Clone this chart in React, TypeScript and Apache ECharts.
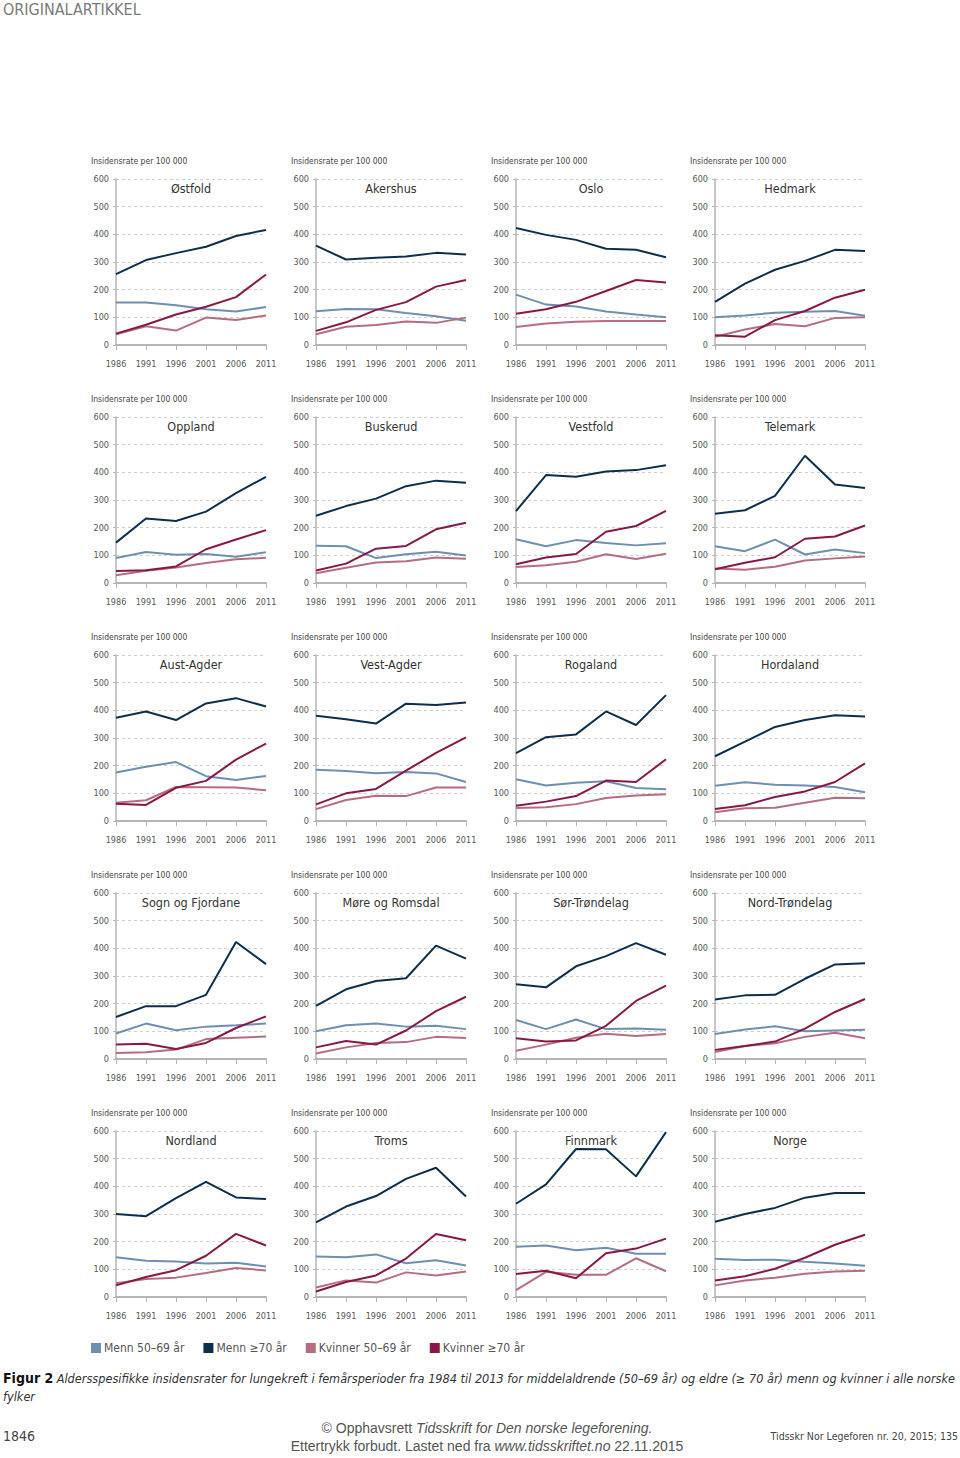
import React, { useEffect, useRef } from "react";
import * as echarts from "echarts";

const years = ["1986", "1991", "1996", "2001", "2006", "2011"];
const yTicks = [0, 100, 200, 300, 400, 500, 600];

const regions = [
  "Østfold", "Akershus", "Oslo", "Hedmark",
  "Oppland", "Buskerud", "Vestfold", "Telemark",
  "Aust-Agder", "Vest-Agder", "Rogaland", "Hordaland",
  "Sogn og Fjordane", "Møre og Romsdal", "Sør-Trøndelag", "Nord-Trøndelag",
  "Nordland", "Troms", "Finnmark", "Norge",
];

const seriesNames = ["Menn 50–69 år", "Menn ≥70 år", "Kvinner 50–69 år", "Kvinner ≥70 år"];
const seriesColors = ["#6e8fb4", "#0d2f4e", "#b86c7f", "#8a1846"];

// Menn 50–69 år
const menn5069 = [
  [154, 154, 144, 129, 121, 137],
  [122, 130, 129, 116, 104, 88],
  [182, 146, 139, 121, 110, 100],
  [100, 107, 117, 120, 123, 106],
  [90, 112, 102, 105, 95, 111],
  [135, 133, 90, 104, 113, 99],
  [158, 133, 155, 145, 136, 144],
  [133, 115, 157, 103, 121, 108],
  [175, 196, 213, 162, 148, 163],
  [185, 181, 173, 177, 172, 141],
  [151, 128, 138, 144, 119, 115],
  [127, 140, 131, 128, 123, 104],
  [92, 128, 104, 117, 122, 128],
  [100, 122, 128, 117, 120, 108],
  [141, 108, 143, 108, 110, 106],
  [90, 107, 118, 100, 103, 106],
  [144, 131, 128, 121, 124, 110],
  [146, 144, 154, 122, 133, 114],
  [182, 186, 169, 178, 156, 156],
  [138, 134, 135, 127, 121, 113],
];

// Menn ≥70 år
const menn70 = [
  [256, 307, 332, 355, 394, 416],
  [359, 309, 315, 320, 333, 327],
  [423, 398, 380, 348, 344, 317],
  [156, 222, 272, 304, 344, 340],
  [146, 233, 224, 258, 325, 384],
  [243, 278, 305, 350, 370, 362],
  [260, 390, 384, 403, 408, 426],
  [250, 263, 315, 460, 356, 343],
  [373, 396, 365, 425, 444, 414],
  [380, 368, 352, 424, 419, 428],
  [245, 303, 313, 396, 347, 455],
  [234, 287, 340, 365, 382, 378],
  [152, 191, 191, 232, 423, 343],
  [192, 252, 282, 292, 410, 363],
  [270, 259, 335, 372, 419, 377],
  [215, 230, 232, 290, 342, 346],
  [300, 292, 357, 416, 360, 354],
  [270, 327, 365, 427, 467, 363],
  [337, 407, 535, 534, 436, 596],
  [272, 300, 322, 359, 376, 376],
];

// Kvinner 50–69 år
const kvinner5069 = [
  [39, 68, 52, 99, 90, 107],
  [39, 66, 72, 85, 80, 99],
  [65, 78, 84, 87, 87, 87],
  [30, 56, 76, 68, 98, 100],
  [28, 44, 56, 72, 86, 91],
  [35, 55, 74, 79, 92, 88],
  [58, 64, 77, 104, 87, 106],
  [52, 48, 59, 81, 89, 96],
  [66, 75, 123, 122, 121, 111],
  [43, 76, 91, 90, 121, 121],
  [47, 50, 61, 83, 92, 97],
  [32, 46, 48, 66, 84, 82],
  [22, 24, 34, 72, 77, 81],
  [20, 42, 58, 61, 80, 76],
  [30, 52, 77, 91, 83, 90],
  [25, 47, 57, 80, 95, 75],
  [50, 65, 70, 87, 105, 96],
  [34, 60, 52, 89, 78, 92],
  [25, 91, 80, 80, 140, 93],
  [42, 60, 70, 84, 92, 95],
];

// Kvinner ≥70 år
const kvinner70 = [
  [41, 73, 110, 138, 173, 255],
  [51, 82, 127, 155, 211, 235],
  [113, 129, 156, 195, 235, 226],
  [35, 30, 90, 123, 171, 200],
  [43, 46, 60, 122, 157, 191],
  [45, 70, 124, 134, 194, 218],
  [68, 92, 105, 185, 206, 261],
  [50, 73, 93, 160, 168, 208],
  [62, 58, 120, 145, 222, 280],
  [60, 100, 116, 182, 246, 302],
  [55, 70, 90, 146, 141, 223],
  [43, 57, 87, 107, 141, 208],
  [52, 55, 36, 58, 112, 154],
  [42, 65, 52, 103, 173, 225],
  [75, 63, 67, 120, 210, 265],
  [33, 47, 63, 110, 170, 217],
  [42, 72, 97, 149, 228, 186],
  [20, 54, 78, 139, 228, 205],
  [83, 95, 68, 158, 175, 211],
  [60, 75, 102, 142, 189, 225],
];

const FONT = '"DejaVu Sans Condensed", "Liberation Sans Narrow", "Roboto Condensed", "Liberation Sans", sans-serif';
const colLeft = [116, 316, 516, 715];
const rowTop = [179, 417, 655, 893, 1131];
const gridW = 150;
const gridH = 166;

export default function App() {
  const ref = useRef<HTMLDivElement>(null);

  useEffect(() => {
    if (!ref.current) return;
    const chart = echarts.init(ref.current, null, { renderer: "svg" });
    const grid: any[] = [];
    const xAxis: any[] = [];
    const yAxis: any[] = [];
    const series: any[] = [];
    const graphic: any[] = [];
    const allData = [menn5069, menn70, kvinner5069, kvinner70];

    regions.forEach((name, i) => {
      const r = Math.floor(i / 4);
      const c = i % 4;
      const left = colLeft[c];
      const top = rowTop[r];
      grid.push({ left, top, width: gridW, height: gridH });
      xAxis.push({
        type: "category",
        gridIndex: i,
        data: years,
        boundaryGap: false,
        axisLine: { lineStyle: { color: "#b5b5b5", width: 2 } },
        axisTick: { show: true, length: 5, lineStyle: { color: "#b5b5b5", width: 1 } },
        axisLabel: { fontSize: 9, color: "#555", margin: 14, fontFamily: FONT },
        splitLine: { show: false },
      });
      yAxis.push({
        type: "value",
        gridIndex: i,
        min: yTicks[0],
        max: yTicks[yTicks.length - 1],
        interval: 100,
        axisLine: { show: true, lineStyle: { color: "#b5b5b5", width: 1.5 } },
        axisTick: { show: true, length: 3, lineStyle: { color: "#b5b5b5" } },
        axisLabel: { fontSize: 9, color: "#555", margin: 7, fontFamily: FONT },
        splitLine: { show: true, lineStyle: { color: "#cfcfcf", type: [3, 3], width: 1 } },
      });
      [0, 2, 3, 1].forEach((k) => {
        series.push({
          type: "line",
          name: seriesNames[k],
          xAxisIndex: i,
          yAxisIndex: i,
          data: allData[k][i],
          symbol: "none",
          lineStyle: { color: seriesColors[k], width: 2 },
          itemStyle: { color: seriesColors[k] },
          z: 3,
        });
      });
      graphic.push({
        type: "text",
        x: left + gridW / 2,
        y: top + 9,
        style: {
          text: name,
          fontSize: 12.5,
          fill: "#333",
          fontFamily: FONT,
          textAlign: "center",
          textVerticalAlign: "middle",
        },
      });
      graphic.push({
        type: "text",
        x: left - 25,
        y: top - 18,
        style: {
          text: "Insidensrate per 100 000",
          fontSize: 8.5,
          fill: "#444",
          fontFamily: FONT,
          textAlign: "left",
          textVerticalAlign: "middle",
        },
      });
    });

    graphic.push({
      type: "text",
      x: 3,
      y: 9,
      style: {
        text: "ORIGINALARTIKKEL",
        fontSize: 16,
        fill: "#7a7a7a",
        fontFamily: FONT,
        textAlign: "left",
        textVerticalAlign: "middle",
      },
    });
    graphic.push({
      type: "text",
      x: 3,
      y: 1387,
      style: {
        text:
          "{b|Figur 2} {i|Aldersspesifikke insidensrater for lungekreft i femårsperioder fra 1984 til 2013 for middelaldrende (50–69 år) og eldre (≥ 70 år) menn og kvinner i alle norske}\n{i|fylker}",
        fontFamily: FONT,
        textAlign: "left",
        textVerticalAlign: "middle",
        fill: "#222",
        rich: {
          b: { fontSize: 14, fontWeight: "bold", fill: "#111", fontFamily: FONT, lineHeight: 18 },
          i: { fontSize: 12.6, fontStyle: "italic", fill: "#333", fontFamily: FONT, lineHeight: 18 },
        },
      },
    });
    graphic.push({
      type: "text",
      x: 3,
      y: 1436,
      style: {
        text: "1846",
        fontSize: 14,
        fill: "#444",
        fontFamily: FONT,
        textAlign: "left",
        textVerticalAlign: "middle",
      },
    });
    graphic.push({
      type: "text",
      x: 487,
      y: 1437,
      style: {
        text:
          "{n|© Opphavsrett }{it|Tidsskrift for Den norske legeforening.}\n{n|Ettertrykk forbudt. Lastet ned fra }{it|www.tidsskriftet.no}{n| 22.11.2015}",
        textAlign: "center",
        textVerticalAlign: "middle",
        fill: "#555",
        rich: {
          n: { fontSize: 14, fill: "#555", fontFamily: '"Liberation Sans", Arial, sans-serif', lineHeight: 18 },
          it: { fontSize: 14, fill: "#555", fontStyle: "italic", fontFamily: '"Liberation Sans", Arial, sans-serif', lineHeight: 18 },
        },
      },
    });
    graphic.push({
      type: "text",
      x: 958,
      y: 1436,
      style: {
        text: "Tidsskr Nor Legeforen nr. 20, 2015; 135",
        fontSize: 10.5,
        fill: "#444",
        fontFamily: FONT,
        textAlign: "right",
        textVerticalAlign: "middle",
      },
    });

    chart.setOption({
      animation: false,
      backgroundColor: "#ffffff",
      textStyle: { fontFamily: FONT },
      legend: {
        data: seriesNames.map((n) => ({ name: n, icon: "rect" })),
        left: 86,
        top: 1337,
        itemWidth: 10,
        itemHeight: 10,
        itemGap: 19,
        textStyle: { fontSize: 12, color: "#555", fontFamily: FONT, padding: [0, 0, 0, -2] },
        selectedMode: false,
      },
      grid,
      xAxis,
      yAxis,
      series,
      graphic,
    });
    return () => chart.dispose();
  }, []);

  return (
    <div
      ref={ref}
      style={{ position: "absolute", left: 0, top: 0, width: 960, height: 1458, background: "#fff" }}
    />
  );
}
